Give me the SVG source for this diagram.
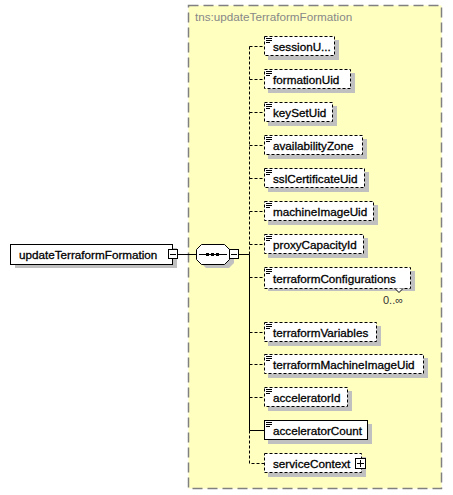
<svg xmlns="http://www.w3.org/2000/svg" width="453" height="495" viewBox="0 0 453 495">
<style>
.lbl{font-family:"Liberation Sans",Arial,sans-serif;font-size:11.7px;fill:#000;stroke:#000;stroke-width:0.3}
.box{fill:#fff;stroke:#000;stroke-width:1}
.opt{stroke-dasharray:3,2}
.shd{fill:#c0c0c0}
.ln{stroke:#000;stroke-width:1;fill:none}
.dl{stroke:#000;stroke-width:1;fill:none;stroke-dasharray:3,2}
.ico{stroke:#000;stroke-width:1}
</style>
<defs>
<g id="icon"><path class="ico" d="M2,2.5h6M2,4.5h6M2,6.5h4"/></g>
</defs>
<rect x="188.5" y="5.5" width="253" height="483" fill="#ffffc0" stroke="#808080" stroke-width="1.5" stroke-dasharray="10,5"/>
<text x="195" y="21" style="font-family:'Liberation Sans',Arial,sans-serif;font-size:11.7px;fill:#888">tns:updateTerraformFormation</text>

<g id="connectors">
<path class="ln" d="M177,254.5H196M239,254.5H249.5"/>
<path class="dl" d="M249.5,46.5V254.5"/>
<path class="ln" d="M249.5,254.5V430.5H264"/>
<path class="dl" d="M249.5,430.5V463.5H264"/>
<path class="dl" d="M249.5,46.5H264M249.5,79.5H264M249.5,112.5H264M249.5,145.5H264M249.5,178.5H264M249.5,211.5H264M249.5,244.5H264M249.5,277.5H264M249.5,332.5H264M249.5,364.5H264M249.5,397.5H264"/>
</g>

<g id="root">
<rect class="shd" x="15" y="248" width="162" height="20"/>
<rect class="box" x="10.5" y="244.5" width="162" height="20"/>
<text class="lbl" x="19" y="259">updateTerraformFormation</text>
<rect class="box" x="168.5" y="249.5" width="9" height="9"/>
<path class="ln" d="M170,254.5h6"/>
</g>

<g id="sequence">
<path class="shd" d="M206,248H229L234,253V263L229,268H206L201,263V253Z"/>
<path fill="#fff" stroke="#000" d="M201.5,244.5H224.5L229.5,249.5V259.5L224.5,264.5H201.5L196.5,259.5V249.5Z"/>
<path class="ln" d="M199,254.5H227"/>
<rect x="206" y="253" width="3" height="3" fill="#000"/>
<rect x="211" y="253" width="3" height="3" fill="#000"/>
<rect x="216" y="253" width="3" height="3" fill="#000"/>
<rect class="box" x="229.5" y="249.5" width="9" height="9"/>
<path class="ln" d="M231,254.5h6"/>
</g>

<g id="sessionUid">
<rect class="shd" x="268" y="40" width="71" height="20"/>
<rect class="box opt" x="264.5" y="36.5" width="70" height="19"/>
<use href="#icon" x="264" y="36"/>
<text class="lbl" x="273" y="51">sessionU...</text>
</g>
<g id="formationUid">
<rect class="shd" x="268" y="73" width="87" height="20"/>
<rect class="box opt" x="264.5" y="69.5" width="86" height="19"/>
<use href="#icon" x="264" y="69"/>
<text class="lbl" x="273" y="84">formationUid</text>
</g>
<g id="keySetUid">
<rect class="shd" x="268" y="106" width="69" height="20"/>
<rect class="box opt" x="264.5" y="102.5" width="68" height="19"/>
<use href="#icon" x="264" y="102"/>
<text class="lbl" x="273" y="117">keySetUid</text>
</g>
<g id="availabilityZone">
<rect class="shd" x="268" y="139" width="99" height="20"/>
<rect class="box opt" x="264.5" y="135.5" width="98" height="19"/>
<use href="#icon" x="264" y="135"/>
<text class="lbl" x="273" y="150">availabilityZone</text>
</g>
<g id="sslCertificateUid">
<rect class="shd" x="268" y="172" width="101" height="20"/>
<rect class="box opt" x="264.5" y="168.5" width="100" height="19"/>
<use href="#icon" x="264" y="168"/>
<text class="lbl" x="273" y="183">sslCertificateUid</text>
</g>
<g id="machineImageUid">
<rect class="shd" x="268" y="205" width="110" height="20"/>
<rect class="box opt" x="264.5" y="201.5" width="109" height="19"/>
<use href="#icon" x="264" y="201"/>
<text class="lbl" x="273" y="216">machineImageUid</text>
</g>
<g id="proxyCapacityId">
<rect class="shd" x="268" y="238" width="100" height="20"/>
<rect class="box opt" x="264.5" y="234.5" width="99" height="19"/>
<use href="#icon" x="264" y="234"/>
<text class="lbl" x="273" y="249">proxyCapacityId</text>
</g>
<g id="terraformConfigurations">
<rect class="shd" x="268" y="271" width="147" height="20"/>
<rect class="box opt" x="264.5" y="267.5" width="146" height="21"/>
<use href="#icon" x="264" y="267"/>
<text class="lbl" x="273" y="283">terraformConfigurations</text>
<path fill="#fff" stroke="#000" d="M395,288.5L399,292.5L403,288.5"/>
<text x="383" y="304" style="font-family:'Liberation Sans',Arial,sans-serif;font-size:11px;fill:#333">0..∞</text>
</g>
<g id="terraformVariables">
<rect class="shd" x="268" y="326" width="113" height="20"/>
<rect class="box opt" x="264.5" y="322.5" width="112" height="19"/>
<use href="#icon" x="264" y="322"/>
<text class="lbl" x="273" y="337">terraformVariables</text>
</g>
<g id="terraformMachineImageUid">
<rect class="shd" x="268" y="358" width="160" height="20"/>
<rect class="box opt" x="264.5" y="354.5" width="159" height="19"/>
<use href="#icon" x="264" y="354"/>
<text class="lbl" x="273" y="369">terraformMachineImageUid</text>
</g>
<g id="acceleratorId">
<rect class="shd" x="268" y="391" width="84" height="20"/>
<rect class="box opt" x="264.5" y="387.5" width="83" height="19"/>
<use href="#icon" x="264" y="387"/>
<text class="lbl" x="273" y="402">acceleratorId</text>
</g>
<g id="acceleratorCount">
<rect class="shd" x="268" y="424" width="104" height="20"/>
<rect class="box" x="264.5" y="420.5" width="103" height="19"/>
<use href="#icon" x="264" y="420"/>
<text class="lbl" x="273" y="435">acceleratorCount</text>
</g>
<g id="serviceContext">
<rect class="shd" x="268" y="457" width="98" height="20"/>
<rect class="box opt" x="264.5" y="453.5" width="97" height="19"/>
<text class="lbl" x="273" y="468">serviceContext</text>
<rect class="box" x="355.5" y="458.5" width="10" height="10"/>
<path class="ln" d="M357,463.5h7M360.5,460v7"/>
</g>
</svg>
